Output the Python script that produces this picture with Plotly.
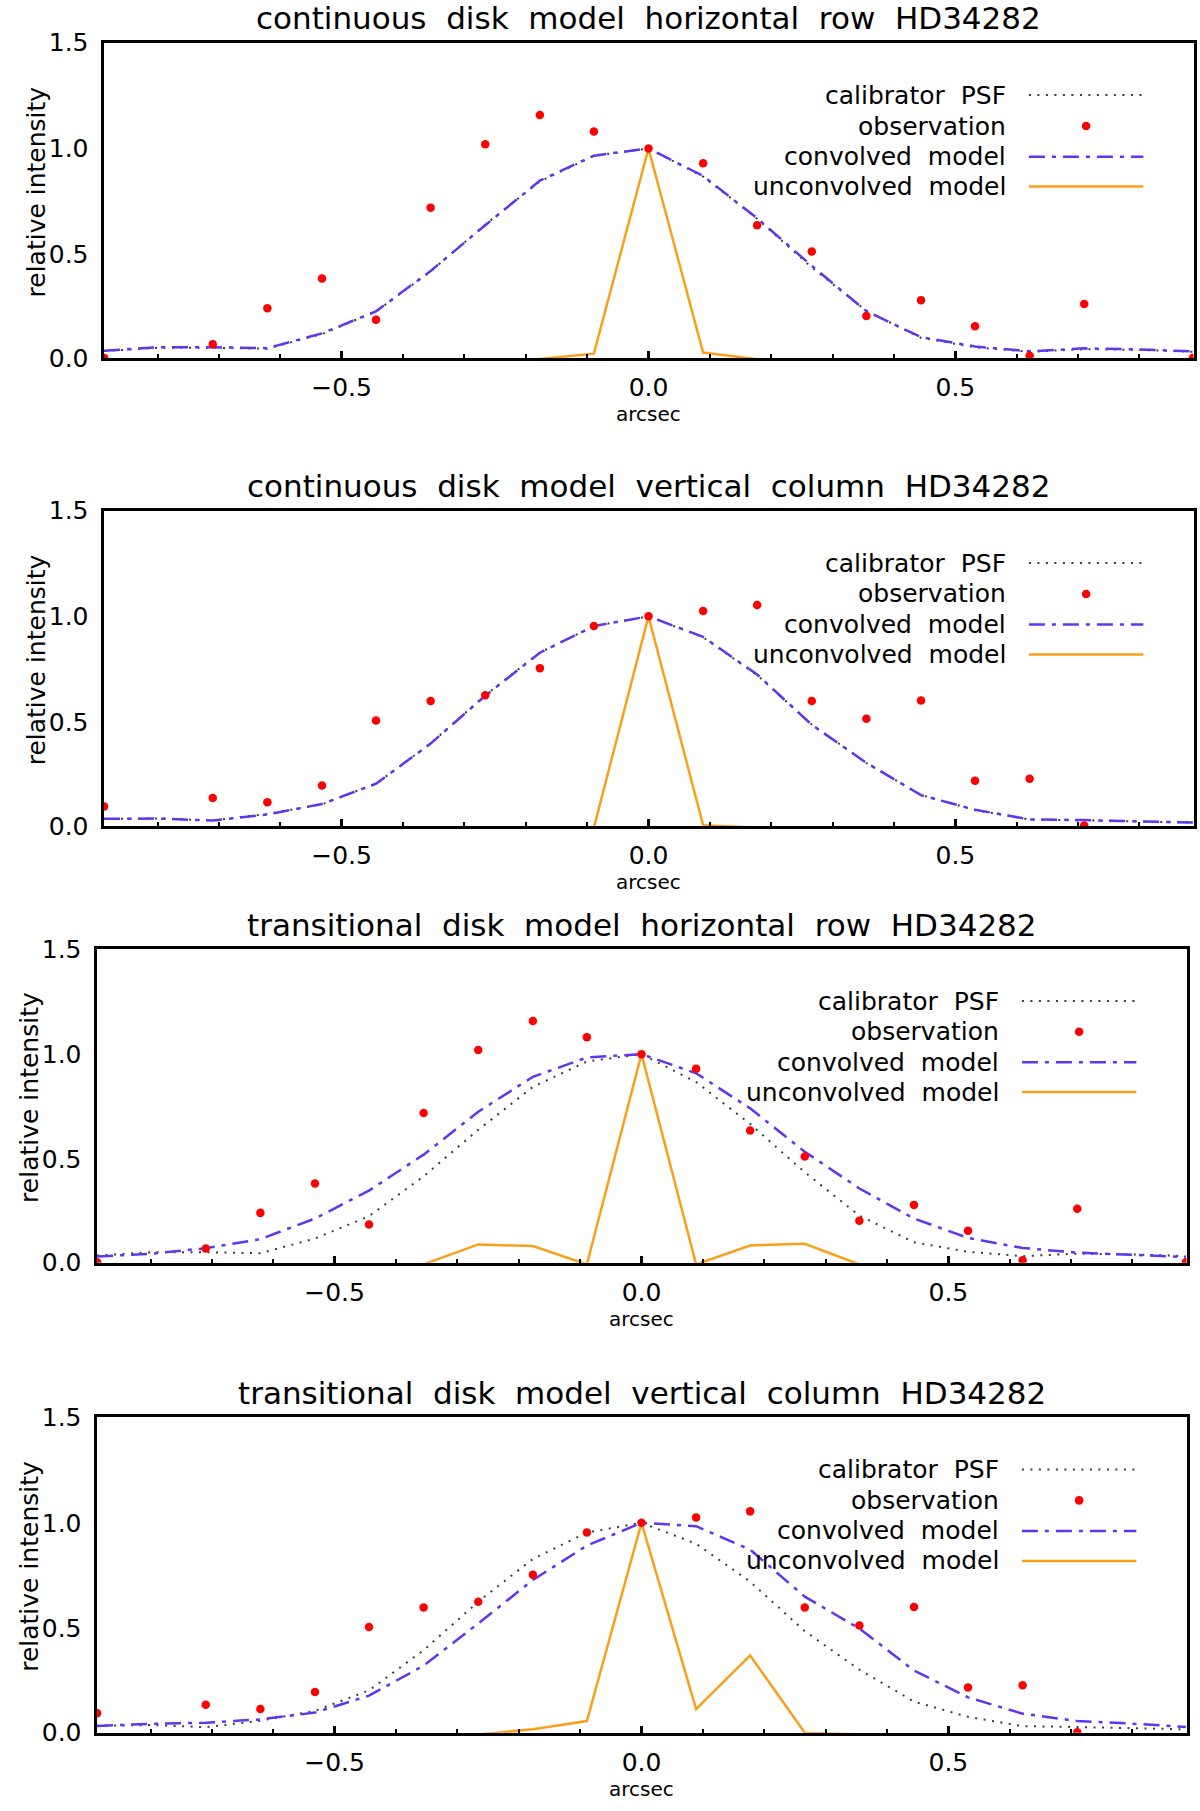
import plotly.graph_objects as go

# pixel positions along the cut, in arcsec
arcsec = [-0.887, -0.798, -0.710, -0.621, -0.532, -0.444, -0.355, -0.266, -0.177, -0.089,
          0.0, 0.089, 0.177, 0.266, 0.355, 0.444, 0.532, 0.621, 0.710, 0.798, 0.887]

# observed HD34282 profiles (row and column through the peak)
obs_row = [0.01, -0.06, 0.075, 0.245, 0.385, 0.19, 0.72, 1.02, 1.158, 1.08,
           1.0, 0.93, 0.637, 0.513, 0.208, 0.283, 0.16, 0.02, 0.265, -0.06, 0.01]
obs_col = [0.10, -0.06, 0.14, 0.12, 0.20, 0.507, 0.60, 0.627, 0.755, 0.954,
           1.0, 1.025, 1.054, 0.60, 0.515, 0.602, 0.222, 0.232, 0.01, -0.06, -0.06]

# calibrator PSF
psf_row = [0.042, 0.058, 0.058, 0.053, 0.123, 0.229, 0.419, 0.640, 0.844, 0.965,
           1.0, 0.867, 0.668, 0.438, 0.232, 0.105, 0.060, 0.039, 0.051, 0.048, 0.039]
psf_col = [0.041, 0.044, 0.034, 0.065, 0.111, 0.208, 0.398, 0.627, 0.829, 0.954,
           1.0, 0.901, 0.722, 0.488, 0.306, 0.155, 0.083, 0.039, 0.035, 0.031, 0.024]

# continuous disk model
conv_cont_row = [0.044, 0.060, 0.060, 0.056, 0.126, 0.230, 0.421, 0.637, 0.848, 0.966,
                 1.0, 0.870, 0.670, 0.445, 0.231, 0.108, 0.064, 0.041, 0.055, 0.050, 0.041]
conv_cont_col = [0.042, 0.043, 0.034, 0.063, 0.112, 0.208, 0.398, 0.624, 0.828, 0.954,
                 1.0, 0.903, 0.725, 0.487, 0.307, 0.154, 0.085, 0.039, 0.036, 0.031, 0.024]
unconv_cont_row = [0, 0, 0, 0, 0, 0, 0, 0, 0.005, 0.03,
                   1.0, 0.035, 0.004, 0, 0, 0, 0, 0, 0, 0, 0]
unconv_cont_col = [0, 0, 0, 0, 0, 0, 0, 0, 0, 0.0,
                   1.0, 0.012, 0.0, 0, 0, 0, 0, 0, 0, 0, 0]

# transitional disk model
conv_trans_row = [0.037, 0.051, 0.077, 0.12, 0.218, 0.351, 0.522, 0.726, 0.892, 0.984,
                  1.0, 0.909, 0.742, 0.536, 0.361, 0.218, 0.126, 0.078, 0.056, 0.046, 0.035]
conv_trans_col = [0.04, 0.05, 0.055, 0.071, 0.103, 0.183, 0.325, 0.524, 0.73, 0.892,
                  1.0, 0.984, 0.873, 0.651, 0.50, 0.302, 0.175, 0.098, 0.063, 0.051, 0.035]
unconv_trans_row = [0, 0, 0, 0, 0, 0, 0, 0.095, 0.087, 0,
                    1.0, 0, 0.09, 0.098, 0, 0, 0, 0, 0, 0, 0]
unconv_trans_col = [0, 0, 0, 0, 0, 0, 0, 0, 0.024, 0.063,
                    1.0, 0.119, 0.373, 0.008, 0, 0, 0, 0, 0, 0, 0]

titles = [
    "continuous disk model horizontal row HD34282",
    "continuous disk model vertical column HD34282",
    "transitional disk model horizontal row HD34282",
    "transitional disk model vertical column HD34282",
]
legend_labels = ["calibrator PSF", "observation", "convolved model", "unconvolved model"]
y_ticks = ["0.0", "0.5", "1.0", "1.5"]

panels = [
    (obs_row, psf_row, conv_cont_row, unconv_cont_row),
    (obs_col, psf_col, conv_cont_col, unconv_cont_col),
    (obs_row, psf_row, conv_trans_row, unconv_trans_row),
    (obs_col, psf_col, conv_trans_col, unconv_trans_col),
]

W, H = 1200, 1811
# plot frames in pixels: left, right, top, bottom
frames = [
    (103.5, 1193.5, 42.7, 358.3),
    (103.5, 1193.5, 510.7, 826.0),
    (96.5, 1186.5, 949.0, 1262.7),
    (96.5, 1186.5, 1417.0, 1732.7),
]

FONT = "DejaVu Sans"
PSF_COLOR = "#3c3c3c"
OBS_COLOR = "#ff0000"
CONV_COLOR = "#5f35f2"
UNCONV_COLOR = "#f8a01c"
PSF_DASH = "2px,6.5px"
CONV_DASH = "16px,7px,4px,7px"
Y_LOW = 0.008  # bottom of frame; hides the zero level of the model under the axis


def spaced(s):
    # the original lettering has wide word gaps
    return s.replace(" ", "\u00a0 ")


fig = go.Figure()
annotations = []
shapes = []

for i, ((obs, psf, conv, unconv), title, (l, r, t, b)) in enumerate(zip(panels, titles, frames)):
    n = "" if i == 0 else str(i + 1)
    xa, ya = "x" + n, "y" + n

    fig.add_trace(go.Scatter(x=arcsec, y=psf, xaxis=xa, yaxis=ya, mode="lines",
                             line=dict(color=PSF_COLOR, width=2, dash=PSF_DASH)))
    fig.add_trace(go.Scatter(x=arcsec, y=conv, xaxis=xa, yaxis=ya, mode="lines",
                             line=dict(color=CONV_COLOR, width=2.5, dash=CONV_DASH)))
    fig.add_trace(go.Scatter(x=arcsec, y=unconv, xaxis=xa, yaxis=ya, mode="lines",
                             line=dict(color=UNCONV_COLOR, width=2.5)))
    fig.add_trace(go.Scatter(x=arcsec, y=obs, xaxis=xa, yaxis=ya, mode="markers",
                             marker=dict(color=OBS_COLOR, size=8.5, line=dict(width=0))))

    fig.layout["xaxis" + n] = dict(
        domain=[l / W, r / W], anchor=ya, range=[-0.888, 0.888], automargin=False,
        showline=True, linecolor="black", linewidth=3, mirror=True,
        ticks="inside", tickmode="linear", tick0=0, dtick=0.5, ticklen=7,
        tickwidth=2.5, tickcolor="black", tickformat=".1f",
        minor=dict(tickmode="linear", tick0=0, dtick=0.1, ticks="inside",
                   ticklen=4, tickwidth=1.5, tickcolor="black"),
        showgrid=False, zeroline=False, ticklabelstandoff=5,
        tickfont=dict(family=FONT, size=25, color="black"),
    )
    fig.layout["yaxis" + n] = dict(
        domain=[1 - b / H, 1 - t / H], anchor=xa, range=[Y_LOW, 1.5], automargin=False,
        showline=True, linecolor="black", linewidth=3, mirror=True,
        ticks="", tickmode="array", tickvals=[Y_LOW, 0.5, 1.0, 1.5], ticktext=y_ticks,
        showgrid=False, zeroline=False, ticklabelstandoff=7,
        tickfont=dict(family=FONT, size=25, color="black"),
    )

    xd, yd = xa + " domain", ya + " domain"
    ph = b - t
    pw = r - l
    annotations.append(dict(text=spaced(title), xref=xd, yref=yd, x=0.5, y=1 + 24.5 / ph,
                            xanchor="center", yanchor="middle", showarrow=False,
                            font=dict(family=FONT, size=31, color="black")))
    annotations.append(dict(text="relative intensity", xref=xd, yref=yd, x=-67 / pw, y=0.527,
                            xanchor="center", yanchor="middle", textangle=-90, showarrow=False,
                            font=dict(family=FONT, size=25, color="black")))
    annotations.append(dict(text="arcsec", xref=xd, yref=yd, x=0.5, y=-56 / ph,
                            xanchor="center", yanchor="middle", showarrow=False,
                            font=dict(family=FONT, size=20, color="black")))

    # legend drawn inside the frame: text right-aligned, sample to the right
    rows = [0.834, 0.736, 0.639, 0.544]
    for lab, yy in zip(legend_labels, rows):
        annotations.append(dict(text=spaced(lab), xref=xd, yref=yd, x=0.830, y=yy,
                                xanchor="right", yanchor="middle", showarrow=False,
                                font=dict(family=FONT, size=25, color="black")))
    x0, x1 = 0.849, 0.954
    shapes.append(dict(type="line", xref=xd, yref=yd, x0=x0, x1=x1, y0=rows[0], y1=rows[0],
                       line=dict(color=PSF_COLOR, width=2, dash=PSF_DASH)))
    rx, ry = 4.3 / pw, 4.3 / ph
    xc = (x0 + x1) / 2
    shapes.append(dict(type="circle", xref=xd, yref=yd, x0=xc - rx, x1=xc + rx,
                       y0=rows[1] - ry, y1=rows[1] + ry, fillcolor=OBS_COLOR,
                       line=dict(width=0)))
    shapes.append(dict(type="line", xref=xd, yref=yd, x0=x0, x1=x1, y0=rows[2], y1=rows[2],
                       line=dict(color=CONV_COLOR, width=2.5, dash=CONV_DASH)))
    shapes.append(dict(type="line", xref=xd, yref=yd, x0=x0, x1=x1, y0=rows[3], y1=rows[3],
                       line=dict(color=UNCONV_COLOR, width=2.5)))

fig.update_layout(
    template="none",
    width=W, height=H, margin=dict(l=0, r=0, t=0, b=0, pad=0),
    paper_bgcolor="white", plot_bgcolor="white",
    showlegend=False, annotations=annotations, shapes=shapes,
    font=dict(family=FONT, color="black"),
)

fig.write_html("out.html", config={"displayModeBar": False},
               post_script="document.body.style.margin='0';")
